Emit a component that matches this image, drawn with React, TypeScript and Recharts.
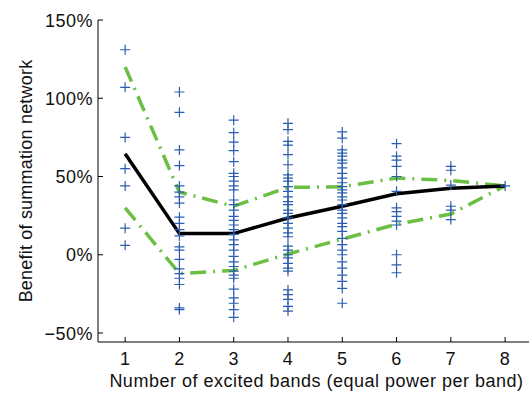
import React from "react";
import {
  ComposedChart,
  Line,
  Scatter,
  XAxis,
  YAxis,
  Label
} from "recharts";

const bands = [1, 2, 3, 4, 5, 6, 7, 8];
const meanBenefit = [64.5, 13.5, 13.5, 23.5, 31, 39, 42.5, 44];
const upperBound = [120, 40, 31, 43, 43.5, 49, 47.5, 44];
const lowerBound = [30, -12, -10, 0.5, 10, 19.5, 26, 44];

const samplesBand1 = [131, 107, 75, 55, 44, 17, 6];
const samplesBand2 = [104, 91, 67, 57, 44, 40, 37, 33, 24, 20, 16, 12, 5, 3, -3, -9, -12, -15, -19, -34, -35];
const samplesBand3 = [86, 78, 72, 66.5, 59.5, 52, 50, 47, 44, 41.5, 35, 32, 28.5, 24.5, 22, 19, 16, 13, 9.5, 6.5, 3, -1, -4.5, -7.5, -10.5, -13, -15, -22, -27.5, -31, -35, -40];
const samplesBand4 = [84, 80, 72.5, 70, 64, 57.5, 51, 49, 47, 43.5, 40.5, 37, 34, 32, 28.5, 26.5, 23.5, 20, 17, 14, 11.5, 5.5, 3, 0, -2, -5.5, -8.5, -10.5, -22.5, -25.5, -28.5, -33, -36];
const samplesBand5 = [78.5, 74.5, 67, 65, 63, 60.5, 58.5, 55.5, 52, 49, 46, 43.5, 41.5, 39.5, 37, 35, 32, 28.5, 26.5, 23.5, 20, 18, 15, 10.5, 6.5, 3, 0, -4.5, -8.5, -13, -17, -21.5, -31];
const samplesBand6 = [71, 63, 60.5, 56.5, 50, 40.5, 30, 27.5, 24.5, 21.5, 19, 0, -6.5, -11.5];
const samplesBand7 = [56.5, 54, 44.5, 31, 28.5, 22.5];
const samplesBand8 = [44];

const samplesByBand = [
  samplesBand1, samplesBand2, samplesBand3, samplesBand4,
  samplesBand5, samplesBand6, samplesBand7, samplesBand8
];

const xTicks = [1, 2, 3, 4, 5, 6, 7, 8];
const yTicks = [-50, 0, 50, 100, 150];

const lineData = bands.map((b, i) => ({
  x: b,
  mean: meanBenefit[i],
  upper: upperBound[i],
  lower: lowerBound[i]
}));

const scatterData = samplesByBand.flatMap((vals, i) =>
  vals.map((v) => ({ x: bands[i], y: v }))
);

const FONT = "'Liberation Sans', Arial, sans-serif";
const BLUE = "#2b5eb0";
const GREEN = "#6bbf44";

const fmtPct = (v: number) => (v < 0 ? "\u2212" : "") + Math.abs(v) + "%";

const PlusMark = (props: any) => {
  const { cx, cy } = props;
  if (cx == null || cy == null) return null;
  return (
    <path
      d={`M${cx - 5},${cy}h10M${cx},${cy - 5}v10`}
      stroke={BLUE}
      strokeWidth={1.2}
      fill="none"
    />
  );
};

const XTick = (props: any) => {
  const { x, y, payload } = props;
  return (
    <g>
      <line x1={x} x2={x} y1={y} y2={y - 5} stroke="#000" strokeWidth={1} />
      <text
        x={x}
        y={y + 23}
        textAnchor="middle"
        fontSize={18}
        fontFamily={FONT}
        fill="#111"
        style={{ letterSpacing: "0.5px" }}
      >
        {payload.value}
      </text>
    </g>
  );
};

const YTick = (props: any) => {
  const { x, y, payload } = props;
  return (
    <g>
      <line x1={x} x2={x + 5} y1={y} y2={y} stroke="#000" strokeWidth={1} />
      <text
        x={x - 5}
        y={y + 6.5}
        textAnchor="end"
        fontSize={18}
        fontFamily={FONT}
        fill="#111"
        style={{ letterSpacing: "0.5px" }}
      >
        {fmtPct(payload.value)}
      </text>
    </g>
  );
};

const YLabel = (props: any) => {
  const vb = props.viewBox;
  const cx = vb.x + 32;
  const cy = vb.y + vb.height / 2;
  return (
    <text
      x={cx}
      y={cy}
      transform={`rotate(-90, ${cx}, ${cy})`}
      textAnchor="middle"
      fontSize={18}
      fontFamily={FONT}
      fill="#111"
      style={{ letterSpacing: "0.2px" }}
    >
      Benefit of summation network
    </text>
  );
};

const XLabel = (props: any) => {
  const vb = props.viewBox;
  const cx = vb.x + vb.width / 2 + 3;
  const cy = vb.y + 45;
  return (
    <text
      x={cx}
      y={cy}
      textAnchor="middle"
      fontSize={18}
      fontFamily={FONT}
      fill="#111"
      style={{ letterSpacing: "0.5px" }}
    >
      Number of excited bands (equal power per band)
    </text>
  );
};

export default function App() {
  return (
    <div style={{ position: "absolute", left: 0, top: 0, width: 529, height: 393, background: "#fff" }}>
      <ComposedChart
        width={529}
        height={393}
        data={lineData}
        margin={{ top: 20, right: 0, left: 0, bottom: 0 }}
      >
        <XAxis
          type="number"
          dataKey="x"
          domain={[0.5, 8.44]}
          ticks={xTicks}
          allowDataOverflow
          height={51}
          tickSize={0}
          tickMargin={0}
          tickLine={false}
          tick={<XTick />}
          axisLine={{ stroke: "#000", strokeWidth: 1 }}
        >
          <Label content={<XLabel />} />
        </XAxis>
        <YAxis
          type="number"
          domain={[-55.75, 150]}
          ticks={yTicks}
          allowDataOverflow
          width={98}
          tickSize={0}
          tickMargin={0}
          tickLine={false}
          tick={<YTick />}
          axisLine={{ stroke: "#000", strokeWidth: 1 }}
        >
          <Label content={<YLabel />} />
        </YAxis>
        <Scatter
          data={scatterData}
          dataKey="y"
          shape={<PlusMark />}
          isAnimationActive={false}
        />
        <Line
          type="linear"
          dataKey="upper"
          stroke={GREEN}
          strokeWidth={3.5}
          strokeDasharray="16 7 2 7"
          dot={false}
          activeDot={false}
          isAnimationActive={false}
        />
        <Line
          type="linear"
          dataKey="lower"
          stroke={GREEN}
          strokeWidth={3.5}
          strokeDasharray="16 7 2 7"
          dot={false}
          activeDot={false}
          isAnimationActive={false}
        />
        <Line
          type="linear"
          dataKey="mean"
          stroke="#000"
          strokeWidth={3.5}
          dot={false}
          activeDot={false}
          isAnimationActive={false}
        />
      </ComposedChart>
    </div>
  );
}
